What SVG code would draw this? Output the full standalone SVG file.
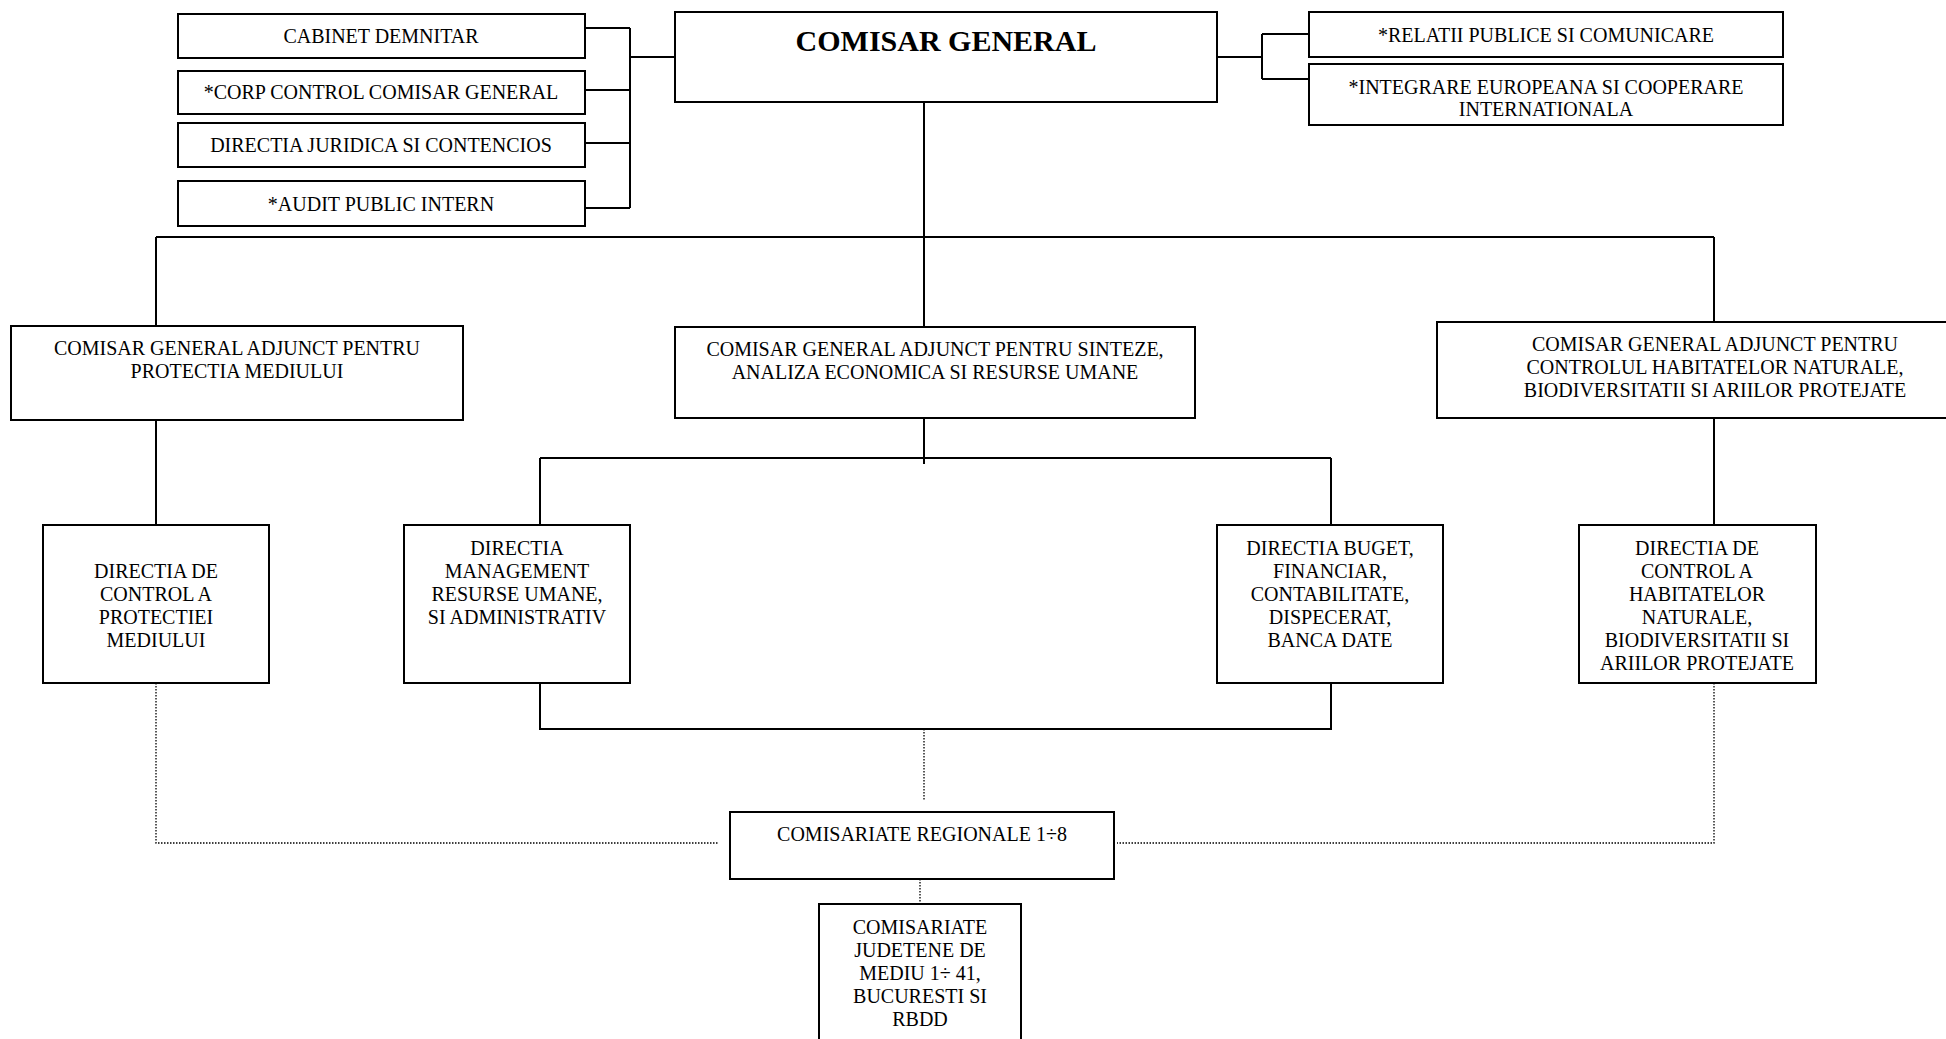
<svg xmlns="http://www.w3.org/2000/svg" width="1946" height="1039" viewBox="0 0 1946 1039">
<style>
.box{fill:#fff;stroke:#000;stroke-width:2}
.t{font-family:"Liberation Serif","Times New Roman",serif;font-size:20px;fill:#000;text-anchor:middle}
.tb{font-family:"Liberation Serif","Times New Roman",serif;font-size:30px;font-weight:bold;fill:#000;text-anchor:middle}
.ln{fill:none;stroke:#000;stroke-width:2}
.dot{fill:none;stroke:#000;stroke-width:1.3;stroke-dasharray:1.5 1.5}
</style>
<rect x="0" y="0" width="1946" height="1039" fill="#fff"/>
<g id="connectors">
<path class="ln" d="M585 28H630M585 90H630M585 143H630M585 208H630M630 28V208M630 57H675"/>
<path class="ln" d="M1217 57H1262M1262 34V79M1262 34H1309M1262 79H1309"/>
<path class="ln" d="M924 102V326M156 237H1714M156 237V326M1714 237V322"/>
<path class="ln" d="M156 420V525M1714 418V525"/>
<path class="ln" d="M924 418V464M540 458H1331M540 458V525M1331 458V525"/>
<path class="ln" d="M540 683V729H1331V683"/>
<path class="dot" d="M924 729V801M156 683V843H718M1714 683V843H1117M920 879V904"/>
</g>
<g id="cabinet"><rect class="box" x="178" y="14" width="407" height="44"/><text class="t" x="381" y="43">CABINET DEMNITAR</text></g>
<g id="corp"><rect class="box" x="178" y="71" width="407" height="43"/><text class="t" x="381" y="99">*CORP CONTROL COMISAR GENERAL</text></g>
<g id="juridica"><rect class="box" x="178" y="123" width="407" height="44"/><text class="t" x="381" y="152">DIRECTIA JURIDICA SI CONTENCIOS</text></g>
<g id="audit"><rect class="box" x="178" y="181" width="407" height="45"/><text class="t" x="381" y="211">*AUDIT PUBLIC INTERN</text></g>
<g id="comisar-general"><rect class="box" x="675" y="12" width="542" height="90"/><text class="tb" x="946" y="51">COMISAR GENERAL</text></g>
<g id="relatii"><rect class="box" x="1309" y="12" width="474" height="45"/><text class="t" x="1546" y="42">*RELATII PUBLICE SI COMUNICARE</text></g>
<g id="integrare"><rect class="box" x="1309" y="64" width="474" height="61"/><text class="t" x="1546" y="94">*INTEGRARE EUROPEANA SI COOPERARE</text><text class="t" x="1546" y="116">INTERNATIONALA</text></g>
<g id="adj-protectia"><rect class="box" x="11" y="326" width="452" height="94"/><text class="t" x="237" y="355">COMISAR GENERAL ADJUNCT PENTRU</text><text class="t" x="237" y="378">PROTECTIA MEDIULUI</text></g>
<g id="adj-sinteze"><rect class="box" x="675" y="327" width="520" height="91"/><text class="t" x="935" y="356">COMISAR GENERAL ADJUNCT PENTRU SINTEZE,</text><text class="t" x="935" y="379">ANALIZA ECONOMICA SI RESURSE UMANE</text></g>
<g id="adj-habitate"><rect class="box" x="1437" y="322" width="556" height="96"/><text class="t" x="1715" y="351">COMISAR GENERAL ADJUNCT PENTRU</text><text class="t" x="1715" y="374">CONTROLUL HABITATELOR NATURALE,</text><text class="t" x="1715" y="397">BIODIVERSITATII SI ARIILOR PROTEJATE</text></g>
<g id="dir-protectie"><rect class="box" x="43" y="525" width="226" height="158"/><text class="t" x="156" y="578">DIRECTIA DE</text><text class="t" x="156" y="601">CONTROL A</text><text class="t" x="156" y="624">PROTECTIEI</text><text class="t" x="156" y="647">MEDIULUI</text></g>
<g id="dir-management"><rect class="box" x="404" y="525" width="226" height="158"/><text class="t" x="517" y="555">DIRECTIA</text><text class="t" x="517" y="578">MANAGEMENT</text><text class="t" x="517" y="601">RESURSE UMANE,</text><text class="t" x="517" y="624">SI ADMINISTRATIV</text></g>
<g id="dir-buget"><rect class="box" x="1217" y="525" width="226" height="158"/><text class="t" x="1330" y="555">DIRECTIA BUGET,</text><text class="t" x="1330" y="578">FINANCIAR,</text><text class="t" x="1330" y="601">CONTABILITATE,</text><text class="t" x="1330" y="624">DISPECERAT,</text><text class="t" x="1330" y="647">BANCA DATE</text></g>
<g id="dir-habitate"><rect class="box" x="1579" y="525" width="237" height="158"/><text class="t" x="1697" y="555">DIRECTIA DE</text><text class="t" x="1697" y="578">CONTROL A</text><text class="t" x="1697" y="601">HABITATELOR</text><text class="t" x="1697" y="624">NATURALE,</text><text class="t" x="1697" y="647">BIODIVERSITATII SI</text><text class="t" x="1697" y="670">ARIILOR PROTEJATE</text></g>
<g id="regionale"><rect class="box" x="730" y="812" width="384" height="67"/><text class="t" x="922" y="841">COMISARIATE REGIONALE 1÷8</text></g>
<g id="judetene"><rect class="box" x="819" y="904" width="202" height="150"/><text class="t" x="920" y="934">COMISARIATE</text><text class="t" x="920" y="957">JUDETENE DE</text><text class="t" x="920" y="980">MEDIU 1÷ 41,</text><text class="t" x="920" y="1003">BUCURESTI SI</text><text class="t" x="920" y="1026">RBDD</text></g>
</svg>
